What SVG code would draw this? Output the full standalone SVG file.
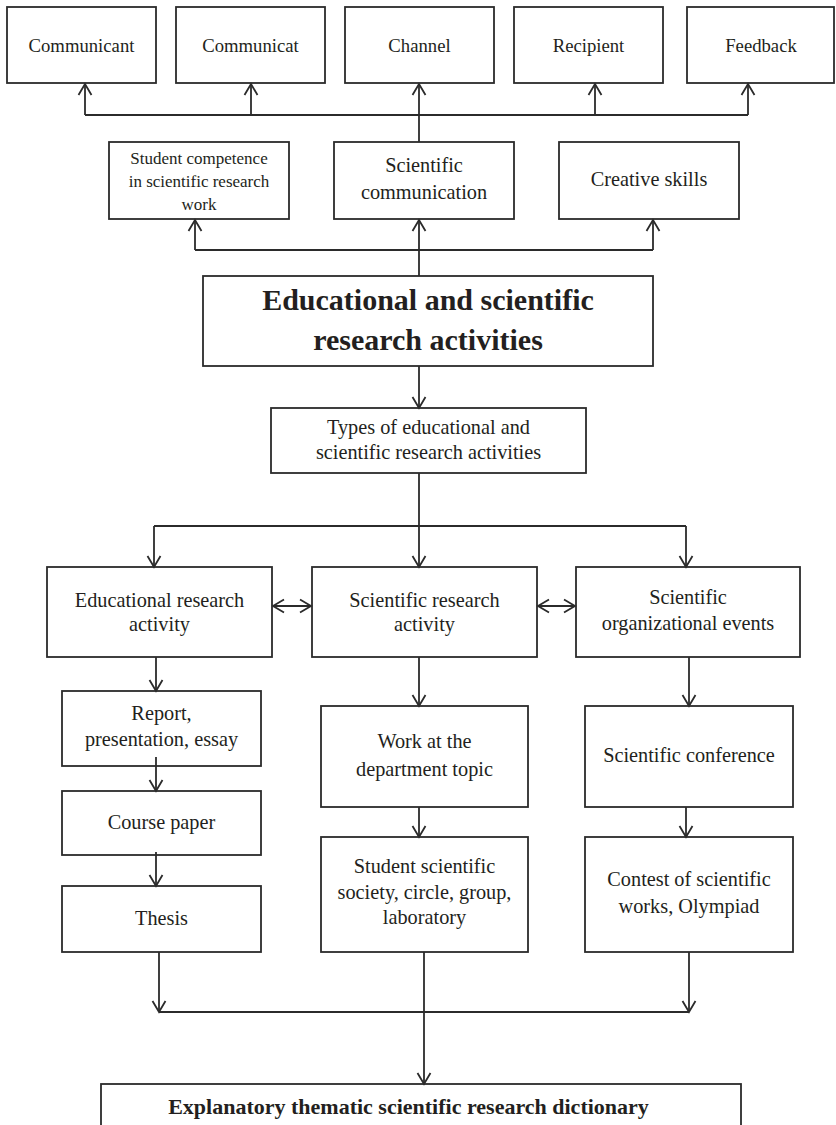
<svg xmlns="http://www.w3.org/2000/svg" width="836" height="1125" viewBox="0 0 836 1125">
<defs>
<style>
.box{fill:#fff;stroke:#2b2b2b;stroke-width:1.8}
.t{font-family:"Liberation Serif","Times New Roman",serif;fill:#231f20;text-anchor:middle}
.s18{font-size:18.7px}
.s17{font-size:17px}
.s20{font-size:20.3px}
.b30{font-size:30px;font-weight:bold}
.b22{font-size:22px;font-weight:bold}
.c{fill:none;stroke:#2b2b2b;stroke-width:1.8}
.a{marker-end:url(#arr)}
.d{marker-end:url(#arr);marker-start:url(#arr)}
</style>
<marker id="arr" markerUnits="userSpaceOnUse" markerWidth="16" markerHeight="16" viewBox="-13 -8 16 16" refX="0" refY="0" orient="auto-start-reverse">
<path d="M-11,-6.5 L0,0 L-11,6.5" fill="none" stroke="#2b2b2b" stroke-width="1.8"/>
</marker>
</defs>
<rect width="836" height="1125" fill="#fff"/>

<g id="communicant"><rect class="box" x="7" y="7" width="149" height="76"/><text class="t s18" x="81.5" y="52">Communicant</text></g>
<g id="communicat"><rect class="box" x="176" y="7" width="149" height="76"/><text class="t s18" x="250.5" y="52">Communicat</text></g>
<g id="channel"><rect class="box" x="345" y="7" width="149" height="76"/><text class="t s18" x="419.5" y="52">Channel</text></g>
<g id="recipient"><rect class="box" x="514" y="7" width="149" height="76"/><text class="t s18" x="588.5" y="52">Recipient</text></g>
<g id="feedback"><rect class="box" x="687" y="7" width="147" height="76"/><text class="t s18" x="761" y="52">Feedback</text></g>

<g id="student-competence"><rect class="box" x="109" y="142" width="180" height="77"/>
<text class="t s17" x="199" y="164">Student competence</text>
<text class="t s17" x="199" y="187">in scientific research</text>
<text class="t s17" x="199" y="210">work</text></g>
<g id="scientific-communication"><rect class="box" x="334" y="142" width="180" height="77"/>
<text class="t s20" x="424" y="172">Scientific</text>
<text class="t s20" x="424" y="199">communication</text></g>
<g id="creative-skills"><rect class="box" x="559" y="142" width="180" height="77"/>
<text class="t s20" x="649" y="186">Creative skills</text></g>

<g id="main"><rect class="box" x="203" y="276" width="450" height="90"/>
<text class="t b30" x="428" y="310">Educational and scientific</text>
<text class="t b30" x="428" y="350">research activities</text></g>

<g id="types"><rect class="box" x="271" y="408" width="315" height="65"/>
<text class="t s20" x="428.5" y="434">Types of educational and</text>
<text class="t s20" x="428.5" y="459">scientific research activities</text></g>

<g id="educational-research"><rect class="box" x="47" y="567" width="225" height="90"/>
<text class="t s20" x="159.5" y="607">Educational research</text>
<text class="t s20" x="159.5" y="631">activity</text></g>
<g id="scientific-research"><rect class="box" x="312" y="567" width="225" height="90"/>
<text class="t s20" x="424.5" y="607">Scientific research</text>
<text class="t s20" x="424.5" y="631">activity</text></g>
<g id="scientific-organizational"><rect class="box" x="576" y="567" width="224" height="90"/>
<text class="t s20" x="688" y="604">Scientific</text>
<text class="t s20" x="688" y="630">organizational events</text></g>

<g id="report"><rect class="box" x="62" y="691" width="199" height="75"/>
<text class="t s20" x="161.5" y="720">Report,</text>
<text class="t s20" x="161.5" y="746">presentation, essay</text></g>
<g id="course-paper"><rect class="box" x="62" y="791" width="199" height="64"/>
<text class="t s20" x="161.5" y="829">Course paper</text></g>
<g id="thesis"><rect class="box" x="62" y="886" width="199" height="66"/>
<text class="t s20" x="161.5" y="925">Thesis</text></g>

<g id="work-department"><rect class="box" x="321" y="706" width="207" height="101"/>
<text class="t s20" x="424.5" y="748">Work at the</text>
<text class="t s20" x="424.5" y="776">department topic</text></g>
<g id="student-society"><rect class="box" x="321" y="837" width="207" height="115"/>
<text class="t s20" x="424.5" y="873">Student scientific</text>
<text class="t s20" x="424.5" y="899">society, circle, group,</text>
<text class="t s20" x="424.5" y="924">laboratory</text></g>

<g id="scientific-conference"><rect class="box" x="585" y="706" width="208" height="101"/>
<text class="t s20" x="689" y="762">Scientific conference</text></g>
<g id="contest"><rect class="box" x="585" y="837" width="208" height="115"/>
<text class="t s20" x="689" y="886">Contest of scientific</text>
<text class="t s20" x="689" y="913">works, Olympiad</text></g>

<g id="dictionary"><rect class="box" x="101" y="1084" width="640" height="70"/>
<text class="t b22" x="408.5" y="1114">Explanatory thematic scientific research dictionary</text></g>

<g id="connectors">
<path class="c" d="M85,115 H748"/>
<path class="c a" d="M85,115 V84"/>
<path class="c a" d="M251,115 V84"/>
<path class="c a" d="M419,142 V84"/>
<path class="c a" d="M595,115 V84"/>
<path class="c a" d="M748,115 V84"/>
<path class="c" d="M195,250 H653"/>
<path class="c a" d="M195,250 V220"/>
<path class="c a" d="M653,250 V220"/>
<path class="c a" d="M419,276 V220"/>
<path class="c a" d="M419,366 V408"/>
<path class="c a" d="M419,473 V567"/>
<path class="c" d="M154,526 H686"/>
<path class="c a" d="M154,526 V567"/>
<path class="c a" d="M686,526 V567"/>
<path class="c d" d="M273,606 H311"/>
<path class="c d" d="M538,606 H575"/>
<path class="c a" d="M156,657 V691"/>
<path class="c a" d="M156,757 V791"/>
<path class="c a" d="M156,852 V886"/>
<path class="c a" d="M159,952 V1012"/>
<path class="c a" d="M419,657 V706"/>
<path class="c a" d="M419,807 V837"/>
<path class="c a" d="M424,952 V1084"/>
<path class="c a" d="M689,657 V706"/>
<path class="c a" d="M686,807 V837"/>
<path class="c a" d="M689,952 V1012"/>
<path class="c" d="M159,1012 H689"/>
</g>
</svg>
